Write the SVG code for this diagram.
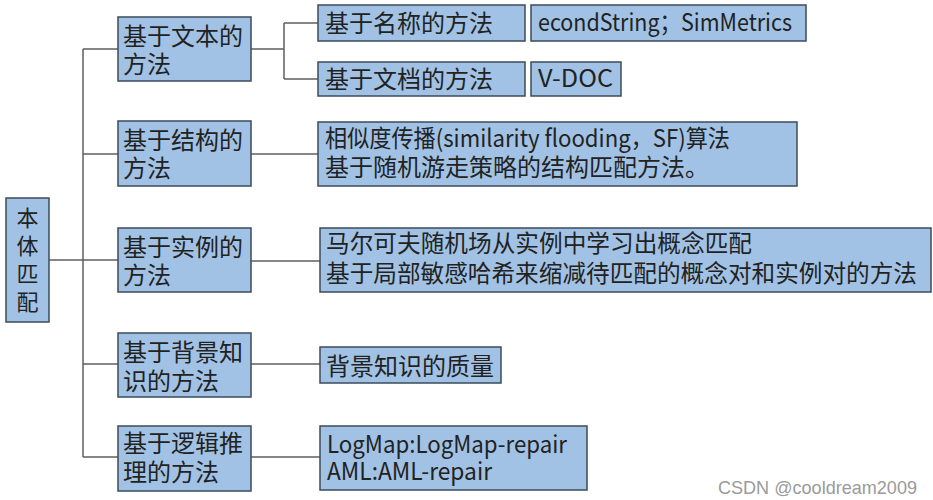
<svg xmlns="http://www.w3.org/2000/svg" width="933" height="500" viewBox="0 0 933 500">
<style>
.box{fill:#a1c2e4;stroke:#3c4b5c;stroke-width:1.5}
.t{font-family:"Noto Sans CJK SC","Noto Sans",sans-serif;font-size:24px;fill:#222222}
.r{font-size:22px}
.c{fill:none;stroke:#5f5f5f;stroke-width:1.5}
.wm{font-family:"Liberation Sans",Arial,sans-serif;font-size:19px;fill:#9a9a9a}
</style>
<rect width="933" height="500" fill="#ffffff"/>
<g id="connectors">
<path class="c" d="M49 260H118"/>
<path class="c" d="M83 49V457"/>
<path class="c" d="M83 49H118M83 154H118M83 364H118M83 457H118"/>
<path class="c" d="M251 49H284M284 23V79M284 23H318M284 79H318"/>
<path class="c" d="M251 154H318"/>
<path class="c" d="M251 261H320"/>
<path class="c" d="M251 364H320"/>
<path class="c" d="M251 457H320"/>
</g>
<g id="root">
<rect class="box" x="6" y="198" width="43" height="124"/>
<text class="t r" text-anchor="middle"><tspan x="27.5" y="226">本</tspan><tspan x="27.5" y="254">体</tspan><tspan x="27.5" y="282">匹</tspan><tspan x="27.5" y="310">配</tspan></text>
</g>
<g id="text-method">
<rect class="box" x="118" y="17" width="133" height="64"/>
<text class="t"><tspan x="123" y="45">基于文本的</tspan><tspan x="123" y="73">方法</tspan></text>
</g>
<g id="name-method">
<rect class="box" x="318" y="5" width="207" height="36"/>
<text class="t" x="325" y="32">基于名称的方法</text>
</g>
<g id="name-tools">
<rect class="box" x="531" y="5" width="275" height="36"/>
<text class="t" x="538" y="31" textLength="254" lengthAdjust="spacingAndGlyphs">econdString；SimMetrics</text>
</g>
<g id="doc-method">
<rect class="box" x="318" y="62" width="207" height="34"/>
<text class="t" x="325" y="88">基于文档的方法</text>
</g>
<g id="doc-tools">
<rect class="box" x="531" y="62" width="90" height="34"/>
<text class="t" x="538" y="87" textLength="75" lengthAdjust="spacingAndGlyphs">V-DOC</text>
</g>
<g id="struct-method">
<rect class="box" x="118" y="121" width="133" height="65"/>
<text class="t"><tspan x="123" y="149">基于结构的</tspan><tspan x="123" y="177">方法</tspan></text>
</g>
<g id="struct-detail">
<rect class="box" x="318" y="122" width="479" height="64"/>
<text class="t"><tspan x="325" y="147" textLength="405" lengthAdjust="spacingAndGlyphs">相似度传播(similarity flooding，SF)算法</tspan><tspan x="325" y="176">基于随机游走策略的结构匹配方法。</tspan></text>
</g>
<g id="instance-method">
<rect class="box" x="118" y="228" width="133" height="64"/>
<text class="t"><tspan x="123" y="256">基于实例的</tspan><tspan x="123" y="284">方法</tspan></text>
</g>
<g id="instance-detail">
<rect class="box" x="320" y="228" width="611" height="64"/>
<text class="t"><tspan x="326" y="252" textLength="426" lengthAdjust="spacingAndGlyphs">马尔可夫随机场从实例中学习出概念匹配</tspan><tspan x="326" y="282" textLength="591" lengthAdjust="spacingAndGlyphs">基于局部敏感哈希来缩减待匹配的概念对和实例对的方法</tspan></text>
</g>
<g id="background-method">
<rect class="box" x="118" y="333" width="133" height="64"/>
<text class="t"><tspan x="123" y="361">基于背景知</tspan><tspan x="123" y="390">识的方法</tspan></text>
</g>
<g id="background-detail">
<rect class="box" x="320" y="347" width="181" height="36"/>
<text class="t" x="326" y="375">背景知识的质量</text>
</g>
<g id="logic-method">
<rect class="box" x="118" y="426" width="133" height="65"/>
<text class="t"><tspan x="123" y="452">基于逻辑推</tspan><tspan x="123" y="481">理的方法</tspan></text>
</g>
<g id="logic-detail">
<rect class="box" x="320" y="426" width="267" height="64"/>
<text class="t"><tspan x="327" y="453" textLength="240" lengthAdjust="spacingAndGlyphs">LogMap:LogMap-repair</tspan><tspan x="327" y="480" textLength="165" lengthAdjust="spacingAndGlyphs">AML:AML-repair</tspan></text>
</g>
<text class="wm" x="718" y="494" textLength="199" lengthAdjust="spacingAndGlyphs">CSDN @cooldream2009</text>
</svg>
